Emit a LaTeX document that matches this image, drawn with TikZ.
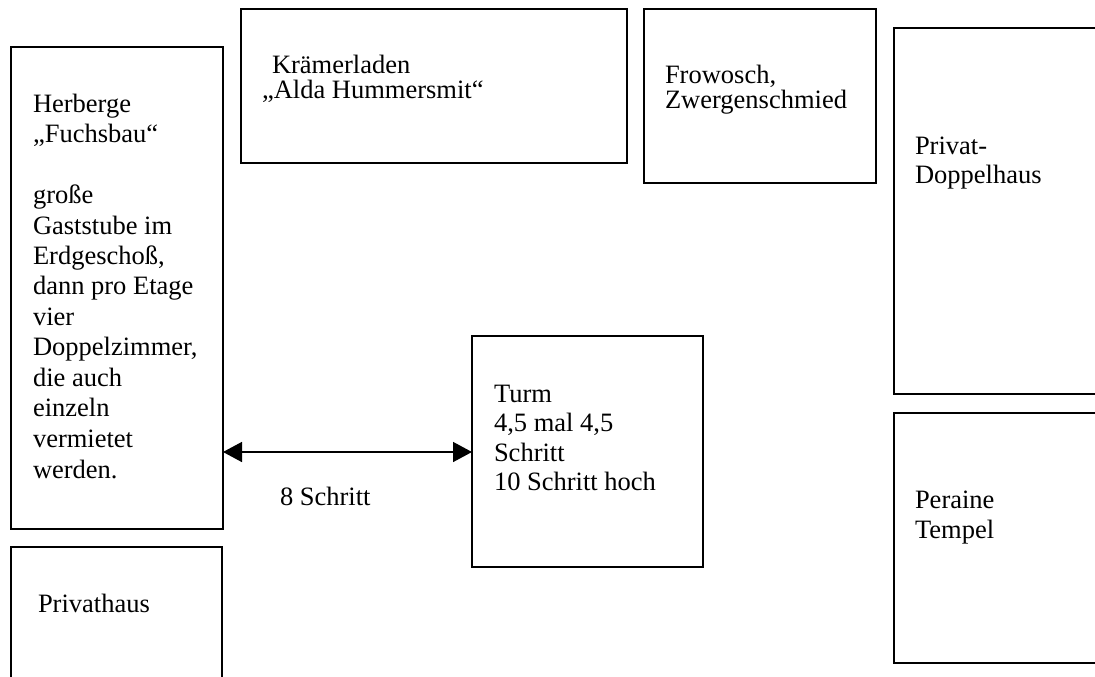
\documentclass[tikz,border=0pt]{standalone}
\usepackage{fontspec}
\setmainfont{Liberation Serif}
\usetikzlibrary{arrows.meta}
\newcommand\tlines[2]{\vtop{\fontsize{26.5pt}{#1}\selectfont\lineskiplimit=-\maxdimen\relax#2}}
\begin{document}
\begin{tikzpicture}[x=1pt,y=-1pt,
  box/.style={draw=black, line width=1.5pt, inner sep=0pt, outer sep=0pt, anchor=north west},
  txt/.style={anchor=base west, inner sep=0pt, outer sep=0pt},
  arr/.style={line width=1.5pt, {Triangle[length=19pt,width=20pt]}-{Triangle[length=19pt,width=20pt]}}
]
\clip (0,0) rectangle (1095,677);
\fill[white] (0,0) rectangle (1095,677);

% boxes
\node[box, minimum width=212pt, minimum height=482pt] (herberge) at (11,47) {};
\node[box, minimum width=211pt, minimum height=160pt] (privathaus) at (11,547) {};
\node[box, minimum width=386pt, minimum height=154pt] (kramer) at (241,9) {};
\node[box, minimum width=232pt, minimum height=174pt] (frowosch) at (644,9) {};
\node[box, minimum width=220pt, minimum height=366pt] (doppel) at (894,28) {};
\node[box, minimum width=220pt, minimum height=250pt] (peraine) at (894,413) {};
\node[box, minimum width=231pt, minimum height=231pt] (turm) at (472,336) {};

% texts
\node[txt] (herbergeT) at (33,112) {\tlines{30.5pt}{%
  \hbox{Herberge}\hbox{„Fuchsbau“}\hbox{}\hbox{große}\hbox{Gaststube im}%
  \hbox{Erdgeschoß,}\hbox{dann pro Etage}\hbox{vier}\hbox{Doppelzimmer,}%
  \hbox{die auch}\hbox{einzeln}\hbox{vermietet}\hbox{werden.}}};
\node[txt] (privathausT) at (38,612) {\tlines{30pt}{\hbox{Privathaus}}};
\node[txt] (kramerT) at (262,74) {\tlines{25pt}{\hbox{\kern10pt Krämerladen}\hbox{„Alda Hummersmit“}}};
\node[txt] (frowoschT) at (665,83) {\tlines{25pt}{\hbox{Frowosch,}\hbox{Zwergenschmied}}};
\node[txt] (doppelT) at (915,154) {\tlines{29pt}{\hbox{Privat-}\hbox{Doppelhaus}}};
\node[txt] (peraineT) at (915,508) {\tlines{30pt}{\hbox{Peraine}\hbox{Tempel}}};
\node[txt] (turmT) at (494,402) {\tlines{29.5pt}{\hbox{Turm}\hbox{4,5 mal 4,5}\hbox{Schritt}\hbox{10 Schritt hoch}}};

% connector
\coordinate (ay) at (0,452);
\draw[arr] (herberge.east |- ay) -- (turm.west |- ay);
\node[txt] (dist) at (280,505) {\tlines{30pt}{\hbox{8 Schritt}}};
\end{tikzpicture}
\end{document}
